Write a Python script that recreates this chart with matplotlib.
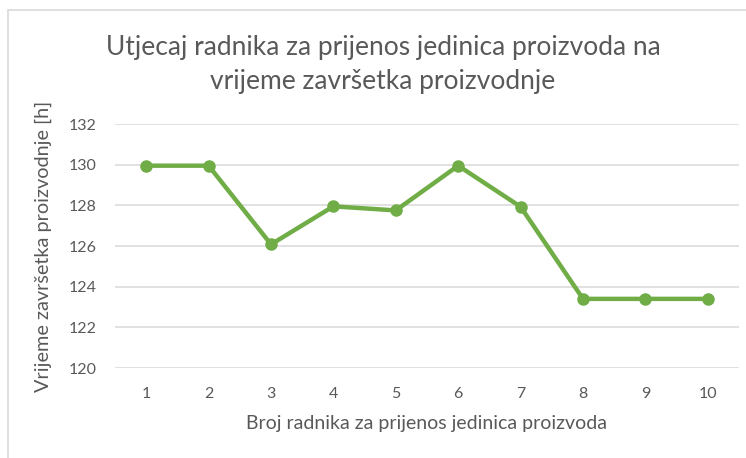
import matplotlib
matplotlib.use("Agg")
import matplotlib.pyplot as plt
from matplotlib.patches import Rectangle

# Number of transfer workers and resulting production completion time
workers = [1, 2, 3, 4, 5, 6, 7, 8, 9, 10]
completion_time = [129.95, 129.95, 126.08, 127.95, 127.75, 129.95, 127.93, 123.4, 123.4, 123.4]
y_ticks = [120, 122, 124, 126, 128, 130, 132]

title = "Utjecaj radnika za prijenos jedinica proizvoda na\nvrijeme završetka proizvodnje"
x_label = "Broj radnika za prijenos jedinica proizvoda"
y_label = "Vrijeme završetka proizvodnje [h]"

text_color = "#595959"
grid_color = "#D9D9D9"
line_color = "#70AD47"
font = ["Lato", "DejaVu Sans"]

W, H = 746, 458
fig = plt.figure(figsize=(W / 100, H / 100), dpi=100)
fig.patch.set_facecolor("white")

# chart frame
fig.add_artist(Rectangle((8 / W, -0.05), 1.1, (H - 10) / H + 0.05,
                         transform=fig.transFigure, fill=False,
                         edgecolor="#D9D9D9", linewidth=1.2))

ax = fig.add_axes([115 / W, 1 - 368 / H, (739 - 115) / W, (368 - 124) / H])
ax.plot(workers, completion_time, color=line_color, linewidth=3.2,
        marker="o", markersize=8, solid_joinstyle="round", zorder=3)

ax.set_xlim(0.5, 10.5)
ax.set_ylim(120, 132)
ax.set_yticks(y_ticks)
ax.set_xticks(workers)
ax.set_xticklabels([str(w) for w in workers])
ax.grid(axis="y", color=grid_color, linewidth=1.1)
ax.set_axisbelow(True)
for s in ax.spines.values():
    s.set_visible(False)
ax.tick_params(length=0, colors=text_color, labelsize=11.5)
for lbl in ax.get_xticklabels() + ax.get_yticklabels():
    lbl.set_family(font)
ax.tick_params(axis="y", pad=13)
ax.tick_params(axis="x", pad=14)

ax.set_xlabel(x_label, color=text_color, fontsize=14, family=font, labelpad=10)
ax.set_ylabel(y_label, color=text_color, fontsize=14.3, family=font)
ax.yaxis.set_label_coords((52 - 115) / (739 - 115), 0.5 - (250 - 246) / 244 + 0.015)

fig.text(383 / W, 1 - 64 / H, title, ha="center", va="center",
         fontsize=19, color=text_color, family=font, linespacing=1.45)

fig.savefig("out.png", dpi=100)
